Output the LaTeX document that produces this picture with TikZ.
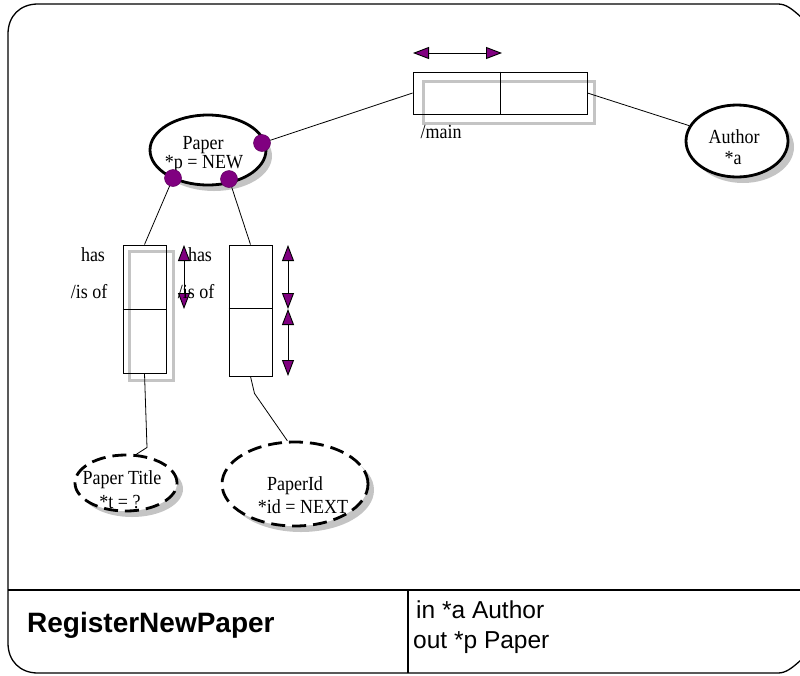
\documentclass[tikz,border=0pt]{standalone}
\usepackage{fontspec}
\newfontfamily\diagserif[FakeStretch=0.9]{Liberation Serif}
\newfontfamily\diagsans{Liberation Sans}
\usetikzlibrary{shapes.geometric,arrows.meta,shadows}
\definecolor{portpurple}{RGB}{128,0,128}
\definecolor{shadegray}{RGB}{196,196,196}
\tikzset{
  entity/.style={ellipse, draw, line width=2.8pt, fill=white, inner sep=0pt,
    general shadow={fill=shadegray, shadow xshift=6pt, shadow yshift=-6pt}},
  optentity/.style={entity, dash pattern=on 14pt off 7pt},
  relbox/.style={rectangle, draw, line width=0.9pt, inner sep=0pt},
  relshade/.style={draw=shadegray, line width=3pt},
  link/.style={line width=0.8pt},
  port/.style={circle, fill=portpurple, draw=portpurple!75!black, line width=0.5pt,
    minimum size=17pt, inner sep=0pt},
  card/.style={line width=0.9pt,
    arrows={Triangle[length=16pt,width=12pt,fill=portpurple]-Triangle[length=16pt,width=12pt,fill=portpurple]}},
  lbl/.style={font=\diagserif\fontsize{20}{20}\selectfont, inner sep=0pt, anchor=base},
  outerframe/.style={line width=1.3pt},
}
\begin{document}
\begin{tikzpicture}[x=1pt,y=-1pt]
\useasboundingbox (0,0) rectangle (800,675);
\clip (0,0) rectangle (800,675);

% outer frame (its right side runs off the page) and the signature panel
\draw[outerframe] (801,17) .. controls (792,9) and (786,4) .. (778,4) -- (38,4)
  .. controls (20,4) and (8,16) .. (8,34) -- (8,643)
  .. controls (8,661) and (20,673) .. (38,673) -- (778,673)
  .. controls (786,673) and (792,668) .. (801,660);
\draw[outerframe] (8,590) -- (801,590);
\draw[outerframe] (408,590) -- (408,673);

% grey shading behind the relationship boxes
\draw[relshade] (423,81) rectangle (594,123);
\draw[relshade] (129,251) rectangle (173,380);

% relationship boxes
\node[relbox, minimum width=174pt, minimum height=42pt] (main) at (500,93) {};
\draw[line width=0.9pt] (main.north) -- (main.south);
\node[relbox, minimum width=43pt, minimum height=128pt] (lcol) at (144.5,309) {};
\draw[line width=0.9pt] (lcol.west) -- (lcol.east);
\node[relbox, minimum width=43pt, minimum height=131pt] (rcol) at (250.5,310.5) {};
\draw[line width=0.9pt] (rcol.north west) ++(0,64) -- ++(43,0);

% entities
\node[entity, minimum width=116pt, minimum height=70pt] (paper) at (208,150) {};
\node[entity, minimum width=102pt, minimum height=72pt] (author) at (737,141) {};
\node[optentity, minimum width=102pt, minimum height=56pt] (title) at (126,483) {};
\node[optentity, minimum width=146pt, minimum height=84pt] (pid) at (295,484) {};

% entity texts
\node[lbl] (paperA) at (203,149) {Paper};
\node[lbl] (paperB) at (204,168) {*p = NEW};
\node[lbl] (authorA) at (734,143) {Author};
\node[lbl] (authorB) at (733,164) {*a};
\node[lbl] (titleA) at (122,484) {Paper Title};
\node[lbl] (titleB) at (120,508) {*t = ?};
\node[lbl] (pidA) at (295,490) {PaperId};
\node[lbl] (pidB) at (303,513) {*id = NEXT};

% ports on the Paper entity
\node[port] (pe) at (262,143) {};
\node[port] (pl) at (173,178) {};
\node[port] (pb) at (229,179) {};

% connectors
\draw[link] (pe) -- (main.west);
\draw[link] (main.east) -- (author);
\draw[link] (pl) -- (lcol.north);
\draw[link] (pb) -- (rcol.north);
\draw[link] (lcol.south) -- ++(2.5,74) -- (title.70);
\draw[link] (rcol.south) -- ++(4,17) -- (pid.100);

% cardinality arrows
\coordinate (mA) at (413,53);
\coordinate (mB) at (502,53);
\draw[card] (mA) -- (mB);
\coordinate (lA) at (184,245);
\coordinate (lB) at (184,309);
\draw[card] (lA) -- (lB);
\coordinate (rA) at (288,245);
\coordinate (rB) at (288,309);
\coordinate (rC) at (288,376);
\draw[card] (rA) -- (rB);
\draw[card] (rB) -- (rC);

% role labels
\node[lbl] (mainlbl) at (441,138) {/main};
\node[lbl] (hasL) at (93,261) {has};
\node[lbl] (isofL) at (89,298) {/is of};
\node[lbl] (hasR) at (200,261) {has};
\node[lbl] (isofR) at (196,298) {/is of};

% operation signature
\node[anchor=base west, inner sep=0pt, font=\diagsans\bfseries\fontsize{28}{28}\selectfont]
  (opname) at (27,632) {RegisterNewPaper};
\node[anchor=base west, inner sep=0pt, font=\diagsans\fontsize{24.5}{25}\selectfont]
  (sigin) at (416,618) {in *a Author};
\node[anchor=base west, inner sep=0pt, font=\diagsans\fontsize{24.5}{25}\selectfont]
  (sigout) at (413,648) {out *p Paper};
\end{tikzpicture}
\end{document}
